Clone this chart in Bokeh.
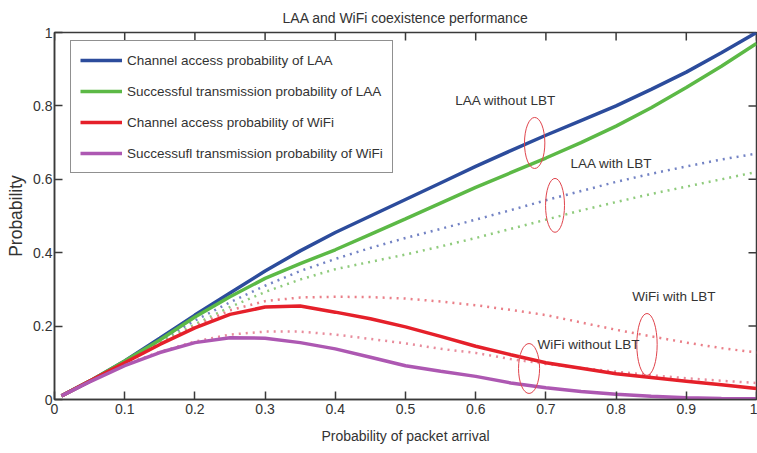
from bokeh.plotting import figure
from bokeh.models import Range1d, Legend, LegendItem, FixedTicker, ColumnDataSource
from bokeh.core.properties import value
from bokeh.embed import file_html
from bokeh.resources import INLINE

FONT = "Liberation Sans"

x = [0.01, 0.05, 0.1, 0.15, 0.2, 0.25, 0.3, 0.35, 0.4, 0.45, 0.5,
     0.55, 0.6, 0.65, 0.7, 0.75, 0.8, 0.85, 0.9, 0.95, 1.0]

laa_access = [0.01, 0.05, 0.105, 0.167, 0.23, 0.29, 0.35, 0.405, 0.455, 0.50, 0.545,
              0.59, 0.635, 0.678, 0.72, 0.76, 0.80, 0.845, 0.892, 0.945, 1.0]
laa_success = [0.01, 0.05, 0.105, 0.162, 0.225, 0.28, 0.33, 0.37, 0.408, 0.45, 0.492,
               0.535, 0.578, 0.618, 0.658, 0.70, 0.745, 0.795, 0.85, 0.908, 0.97]
wifi_access = [0.01, 0.05, 0.10, 0.15, 0.195, 0.232, 0.252, 0.255, 0.238, 0.22, 0.198,
               0.172, 0.145, 0.122, 0.10, 0.085, 0.07, 0.06, 0.05, 0.04, 0.03]
wifi_success = [0.01, 0.048, 0.092, 0.128, 0.155, 0.168, 0.167, 0.155, 0.138, 0.115, 0.092,
                0.077, 0.063, 0.045, 0.032, 0.022, 0.014, 0.009, 0.005, 0.003, 0.002]

laa_access_lbt = [0.01, 0.05, 0.105, 0.16, 0.215, 0.265, 0.31, 0.35, 0.383, 0.413, 0.44,
                  0.465, 0.49, 0.516, 0.543, 0.568, 0.593, 0.615, 0.635, 0.654, 0.67]
laa_success_lbt = [0.01, 0.05, 0.105, 0.155, 0.205, 0.252, 0.293, 0.327, 0.355, 0.375, 0.395,
                   0.417, 0.44, 0.465, 0.49, 0.515, 0.538, 0.56, 0.58, 0.60, 0.62]
wifi_access_lbt = [0.01, 0.05, 0.10, 0.15, 0.20, 0.243, 0.268, 0.278, 0.28, 0.279, 0.275,
                   0.267, 0.257, 0.244, 0.23, 0.21, 0.19, 0.172, 0.155, 0.14, 0.128]
wifi_success_lbt = [0.01, 0.048, 0.095, 0.13, 0.158, 0.177, 0.185, 0.185, 0.177, 0.165, 0.153,
                    0.138, 0.127, 0.11, 0.097, 0.086, 0.076, 0.066, 0.058, 0.051, 0.045]

legend_labels = ["Channel access probability of LAA",
                 "Successful transmission probability of LAA",
                 "Channel access probability of WiFi",
                 "Successufl transmission probability of WiFi"]

note_text = ["LAA without LBT", "LAA with LBT", "WiFi with LBT", "WiFi without LBT"]
note_x = [0.571, 0.735, 0.823, 0.688]
note_y = [0.815, 0.642, 0.282, 0.151]

ell_x = [0.684, 0.713, 0.844, 0.676]
ell_y = [0.699, 0.529, 0.150, 0.0845]
ell_w = [0.029, 0.027, 0.029, 0.030]
ell_h = [0.139, 0.147, 0.169, 0.136]

xticks = [0, 0.1, 0.2, 0.3, 0.4, 0.5, 0.6, 0.7, 0.8, 0.9, 1]
yticks = [0, 0.2, 0.4, 0.6, 0.8, 1]

TXT = "#333333"
AX = "#3a3a3a"
W, H = 757, 453
LEFT, RIGHT, TOP, BOTTOM = 54, 1, 32, 54
TICK = 8  # inward tick length in pixels

p = figure(width=W, height=H, output_backend="svg", toolbar_location=None,
           x_range=Range1d(0, 1), y_range=Range1d(0, 1),
           x_axis_label="Probability of packet arrival", y_axis_label="Probability",
           min_border_left=LEFT, min_border_right=RIGHT, min_border_top=TOP,
           min_border_bottom=BOTTOM)
p.title.text = "LAA and WiFi coexistence performance"
p.title.align = "center"
p.title.text_font = FONT
p.title.text_font_size = "14px"
p.title.text_font_style = "normal"
p.title.text_color = TXT
p.title.standoff = 14

p.xgrid.visible = False
p.ygrid.visible = False
p.outline_line_color = AX
p.outline_line_width = 1.5

for ax, ticks in ((p.xaxis[0], xticks), (p.yaxis[0], yticks)):
    ax.ticker = FixedTicker(ticks=ticks)
    ax.major_tick_in = TICK
    ax.major_tick_out = 0
    ax.minor_tick_line_color = None
    ax.axis_line_color = AX
    ax.axis_line_width = 1.5
    ax.major_tick_line_color = AX
    ax.major_tick_line_width = 1.5
    ax.major_label_text_font = FONT
    ax.major_label_text_font_size = "14px"
    ax.major_label_text_color = TXT
    ax.axis_label_text_font = FONT
    ax.axis_label_text_font_size = "14px"
    ax.axis_label_text_font_style = "normal"
    ax.axis_label_text_color = TXT
    ax.major_label_overrides = {t: f"{t:g}" for t in ticks}

p.yaxis[0].major_label_standoff = 2
p.yaxis[0].axis_label_standoff = 4
p.yaxis[0].axis_label_text_font_size = "17.5px"
p.xaxis[0].major_label_standoff = 4
p.xaxis[0].axis_label_standoff = 11

# inward ticks on the top and right edges of the box
fw = W - LEFT - RIGHT
fh = H - TOP - BOTTOM
tx = TICK / fh
ty = TICK / fw
p.segment(x0=xticks, y0=[1] * len(xticks), x1=xticks, y1=[1 - tx] * len(xticks),
          line_color=AX, line_width=1.5)
p.segment(x0=[1] * len(yticks), y0=yticks, x1=[1 - ty] * len(yticks), y1=yticks,
          line_color=AX, line_width=1.5)

BLUE = "#2c4c9c"
GREEN = "#5cb946"
RED = "#e5202a"
PURPLE = "#ad58b2"

src = ColumnDataSource(dict(x=x, a=laa_access, b=laa_success, c=wifi_access, d=wifi_success,
                            e=laa_access_lbt, f=laa_success_lbt, g=wifi_access_lbt, h=wifi_success_lbt))

DOT = "2 5"
p.line("x", "e", source=src, line_color="#7383c4", line_width=2.5, line_dash=DOT)
p.line("x", "f", source=src, line_color="#8fcb7c", line_width=2.5, line_dash=DOT)
p.line("x", "g", source=src, line_color="#ea7f88", line_width=2.5, line_dash=DOT)
p.line("x", "h", source=src, line_color="#e88c9c", line_width=2.5, line_dash=DOT)

r1 = p.line("x", "a", source=src, line_color=BLUE, line_width=3.5)
r2 = p.line("x", "b", source=src, line_color=GREEN, line_width=3.5)
r3 = p.line("x", "c", source=src, line_color=RED, line_width=3.5)
r4 = p.line("x", "d", source=src, line_color=PURPLE, line_width=3.5)

p.ellipse(x=ell_x, y=ell_y, width=ell_w, height=ell_h, fill_color=None,
          line_color="#e0444c", line_width=1)

p.text(x=note_x, y=note_y, text=note_text, text_font=value(FONT), text_font_size="13.5px",
       text_color=TXT, text_align="left", text_baseline="middle")

legend = Legend(items=[LegendItem(label=legend_labels[0], renderers=[r1]),
                       LegendItem(label=legend_labels[1], renderers=[r2]),
                       LegendItem(label=legend_labels[2], renderers=[r3]),
                       LegendItem(label=legend_labels[3], renderers=[r4])],
                location=(16, 226), label_text_font=FONT, label_text_font_size="13.5px",
                label_text_color=TXT, glyph_width=42, glyph_height=20, label_height=20,
                spacing=11, padding=9, label_standoff=5, margin=0,
                border_line_color="#222222", border_line_width=1.2,
                background_fill_color="white", background_fill_alpha=1)
p.add_layout(legend, "center")

open("out.html", "w").write(file_html(p, INLINE))
